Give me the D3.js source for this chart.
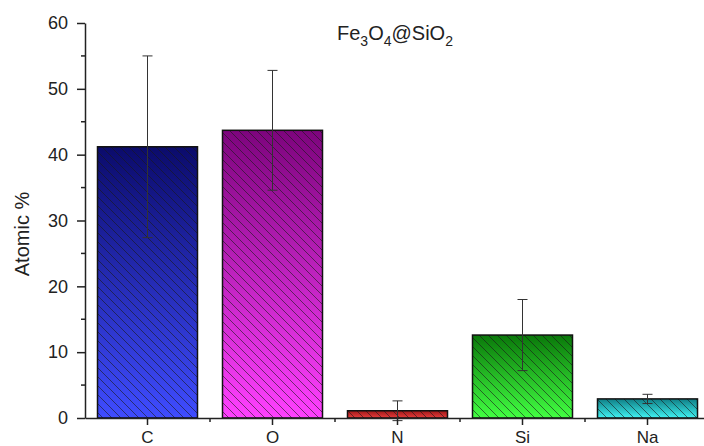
<!DOCTYPE html>
<html>
<head>
<meta charset="utf-8">
<script src="https://cdn.jsdelivr.net/npm/d3@7"></script>
<style>
  body { margin: 0; background: #fff; }
  svg { display: block; font-family: "Liberation Sans", Arial, sans-serif; }
</style>
</head>
<body>
<div id="chart"></div>
<script>
// Daten
const elements = ["C", "O", "N", "Si", "Na"];
const atomicPercent = [41.2, 43.7, 1.1, 12.6, 2.9];
const errorValues = [13.8, 9.1, 1.5, 5.4, 0.7];
const yTicks = [0, 10, 20, 30, 40, 50, 60];
const gradientTop = ["#0b0b6b", "#7d047d", "#a01818", "#0a780a", "#0f7f86"];
const gradientBottom = ["#3f4cff", "#ff40ff", "#e63c3c", "#42ff42", "#40f2f2"];

const width = 704, height = 446;
const margin = { left: 85, top: 23, bottom: 28 };

const svg = d3.select("#chart").append("svg")
  .attr("width", width)
  .attr("height", height);

const defs = svg.append("defs");

// Verlauf pro Balken
elements.forEach((el, i) => {
  const grad = defs.append("linearGradient")
    .attr("id", "grad-" + i)
    .attr("x1", 0).attr("y1", 0)
    .attr("x2", 0).attr("y2", 1);
  grad.append("stop").attr("offset", "0%").attr("stop-color", gradientTop[i]);
  grad.append("stop").attr("offset", "100%").attr("stop-color", gradientBottom[i]);
});

// Schraffur
const hatch = defs.append("pattern")
  .attr("id", "hatch")
  .attr("patternUnits", "userSpaceOnUse")
  .attr("width", 9)
  .attr("height", 9);
hatch.append("path")
  .attr("d", "M0,0 L9,9 M-1,8 L1,10 M8,-1 L10,1")
  .attr("stroke", "#1a1a1a")
  .attr("stroke-opacity", 0.75)
  .attr("stroke-width", 0.8);

// Skalen
const x = d3.scaleBand()
  .domain(elements)
  .range([margin.left, margin.left + 125 * elements.length])
  .paddingInner(0.2)
  .paddingOuter(0.1);

const y = d3.scaleLinear()
  .domain([0, 60])
  .range([height - margin.bottom, margin.top]);

// Balken
const bars = svg.append("g");
bars.selectAll(".bar")
  .data(elements)
  .enter()
  .append("rect")
  .attr("class", "bar")
  .attr("x", d => x(d))
  .attr("y", (d, i) => y(atomicPercent[i]))
  .attr("width", x.bandwidth())
  .attr("height", (d, i) => y(0) - y(atomicPercent[i]))
  .attr("fill", (d, i) => `url(#grad-${i})`);

bars.selectAll(".hatch")
  .data(elements)
  .enter()
  .append("rect")
  .attr("class", "hatch")
  .attr("x", d => x(d))
  .attr("y", (d, i) => y(atomicPercent[i]))
  .attr("width", x.bandwidth())
  .attr("height", (d, i) => y(0) - y(atomicPercent[i]))
  .attr("fill", "url(#hatch)")
  .attr("stroke", "#111")
  .attr("stroke-width", 1.5);

// Fehlerbalken
const err = svg.append("g")
  .attr("stroke", "#333")
  .attr("stroke-width", 1);
elements.forEach((el, i) => {
  const cx = x(el) + x.bandwidth() / 2;
  const lo = y(atomicPercent[i] - errorValues[i]);
  const hi = y(atomicPercent[i] + errorValues[i]);
  err.append("line").attr("x1", cx).attr("x2", cx).attr("y1", lo).attr("y2", hi);
  err.append("line").attr("x1", cx - 5).attr("x2", cx + 5).attr("y1", lo).attr("y2", lo);
  err.append("line").attr("x1", cx - 5).attr("x2", cx + 5).attr("y1", hi).attr("y2", hi);
});

// Y-Achse
const yAxis = svg.append("g")
  .attr("transform", `translate(${margin.left},0)`)
  .call(d3.axisLeft(y).tickValues(yTicks).tickSize(8).tickPadding(9).tickSizeOuter(0));
yAxis.select(".domain").attr("stroke", "#222").attr("stroke-width", 1.5);
yAxis.selectAll(".tick line").attr("stroke", "#222").attr("stroke-width", 1.5);
yAxis.selectAll(".tick text").style("font-size", "18px").attr("fill", "#222");

// Nebenticks Y
svg.append("g")
  .selectAll("line")
  .data(d3.range(5, 60, 10))
  .enter()
  .append("line")
  .attr("x1", margin.left - 4)
  .attr("x2", margin.left)
  .attr("y1", d => y(d))
  .attr("y2", d => y(d))
  .attr("stroke", "#222")
  .attr("stroke-width", 1.5);

// X-Achse
const xAxis = svg.append("g")
  .attr("transform", `translate(0,${y(0)})`)
  .call(d3.axisBottom(x).tickSize(7).tickPadding(6).tickSizeOuter(0));
xAxis.select(".domain").attr("stroke", "#222").attr("stroke-width", 1.5);
xAxis.selectAll(".tick line").attr("stroke", "#222").attr("stroke-width", 1.5);
xAxis.selectAll(".tick text").style("font-size", "17px").attr("fill", "#222");

// Nebenticks X (Kategoriegrenzen)
svg.append("g")
  .selectAll("line")
  .data(elements.slice(1))
  .enter()
  .append("line")
  .attr("x1", d => x(d) - x.step() * x.paddingInner() / 2)
  .attr("x2", d => x(d) - x.step() * x.paddingInner() / 2)
  .attr("y1", y(0))
  .attr("y2", y(0) + 4)
  .attr("stroke", "#222")
  .attr("stroke-width", 1.5);

// Achsentitel
svg.append("text")
  .attr("transform", `translate(29,234) rotate(-90)`)
  .attr("text-anchor", "middle")
  .style("font-size", "20px")
  .attr("fill", "#222")
  .text("Atomic %");

// Titel mit Tiefstellung
const title = svg.append("text")
  .attr("x", 395)
  .attr("y", 40)
  .attr("text-anchor", "middle")
  .style("font-size", "20px")
  .attr("fill", "#222");
const parts = [["Fe", false], ["3", true], ["O", false], ["4", true], ["@SiO", false], ["2", true]];
parts.forEach(([t, sub]) => {
  title.append("tspan")
    .attr("dy", sub ? 6 : (t === "Fe" ? 0 : -6))
    .style("font-size", sub ? "14px" : "20px")
    .text(t);
});
</script>
</body>
</html>
